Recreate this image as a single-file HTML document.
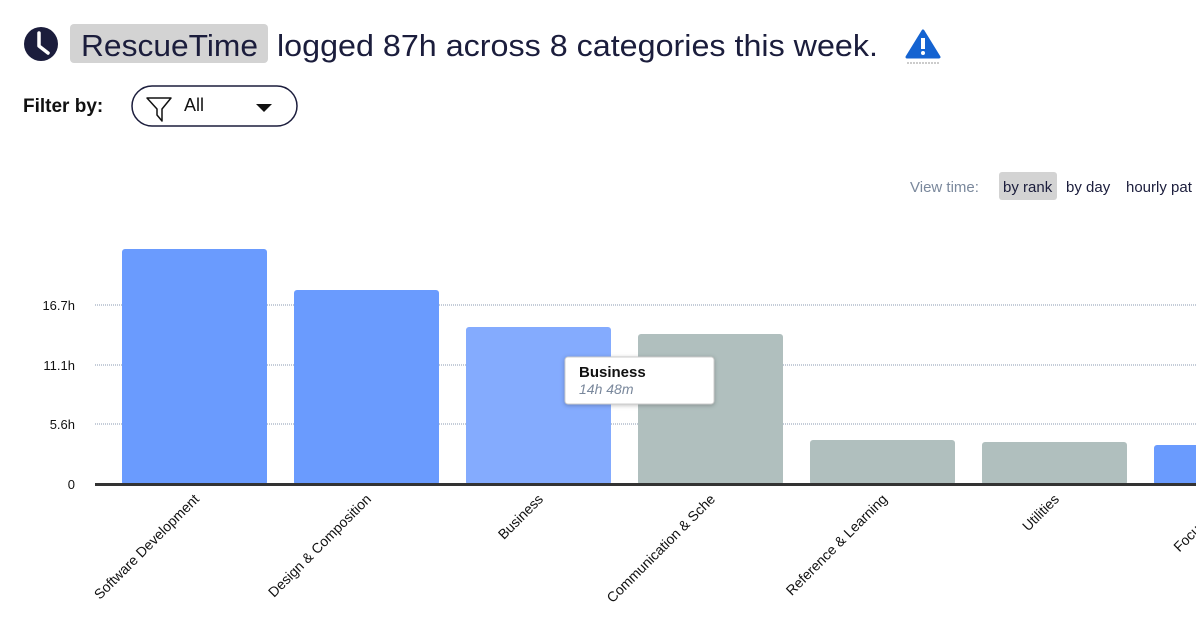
<!DOCTYPE html>
<html><head><meta charset="utf-8"><style>
body{margin:0;width:1196px;height:632px;background:#fff;font-family:"Liberation Sans",sans-serif;color:#1b1d3c;overflow:hidden;position:relative}
.t{position:absolute;left:0;top:0}
</style></head><body>
<svg width="1196" height="632" class="t" xmlns="http://www.w3.org/2000/svg" font-family="Liberation Sans, sans-serif">
<circle cx="41" cy="44" r="17" fill="#1b1d3c"/>
<path d="M39 33 V46 L48 53" stroke="#fff" stroke-width="3.5" fill="none" stroke-linecap="round" stroke-linejoin="round"/>
<rect x="70" y="24" width="198" height="39" rx="4" fill="#d3d3d3"/>
<text x="81" y="56" font-size="31" fill="#1b1d3c" textLength="177" lengthAdjust="spacingAndGlyphs">RescueTime</text>
<text x="277" y="56" font-size="31" fill="#1b1d3c" textLength="601" lengthAdjust="spacingAndGlyphs">logged 87h across 8 categories this week.</text>
<path d="M923 31 L939 57 L907 57 Z" fill="#1463d1" stroke="#1463d1" stroke-width="3" stroke-linejoin="round"/>
<rect x="921" y="38" width="4" height="11" fill="#fff"/><circle cx="923" cy="53" r="2" fill="#fff"/>
<line x1="907" y1="63" x2="939" y2="63" stroke="#999" stroke-dasharray="2,1"/>
<text x="23" y="112" font-size="19" font-weight="bold" fill="#111">Filter by:</text>
<rect x="132" y="86" width="165" height="40" rx="20" fill="#fff" stroke="#1b1d3c" stroke-width="1.5"/>
<path d="M147 98 H171 L162 109 V121 L157 115 V109 Z" fill="none" stroke="#111" stroke-width="1.5" stroke-linejoin="round"/>
<text x="184" y="111" font-size="18" fill="#111">All</text>
<path d="M256 104 H272 L264 112 Z" fill="#111"/>
<text x="910" y="192" font-size="15" fill="#7a889c">View time:</text>
<rect x="999" y="172" width="58" height="28" rx="3" fill="#d3d3d3"/>
<text x="1003" y="192" font-size="15" fill="#1b1d3c">by rank</text>
<text x="1066" y="192" font-size="15" fill="#1b1d3c">by day</text>
<text x="1126" y="192" font-size="15" fill="#1b1d3c">hourly pat</text>
<g stroke="#8a9ab0" stroke-dasharray="1,1" stroke-width="1">
<line x1="95" y1="305" x2="1196" y2="305"/><line x1="95" y1="365" x2="1196" y2="365"/><line x1="95" y1="424" x2="1196" y2="424"/>
</g>
<g font-size="13" fill="#111" text-anchor="end">
<text x="75" y="310">16.7h</text><text x="75" y="370">11.1h</text><text x="75" y="429">5.6h</text><text x="75" y="489">0</text>
</g>
<g>
<rect x="122" y="249" width="145" height="236" rx="3" fill="#6a9bfe"/>
<rect x="294" y="290" width="145" height="195" rx="3" fill="#6a9bfe"/>
<rect x="466" y="327" width="145" height="158" rx="3" fill="#84abfe"/>
<rect x="638" y="334" width="145" height="151" rx="3" fill="#b0bfbe"/>
<rect x="810" y="440" width="145" height="45" rx="3" fill="#b0bfbe"/>
<rect x="982" y="442" width="145" height="43" rx="3" fill="#b0bfbe"/>
<rect x="1154" y="445" width="50" height="40" rx="3" fill="#6a9bfe"/>
</g>
<line x1="95" y1="484.5" x2="1196" y2="484.5" stroke="#333" stroke-width="3"/>
<g font-size="14" fill="#111" text-anchor="end">
<text transform="translate(200,500) rotate(-45)">Software Development</text>
<text transform="translate(372,500) rotate(-45)">Design &amp; Composition</text>
<text transform="translate(544,500) rotate(-45)">Business</text>
<text transform="translate(716,500) rotate(-45)">Communication &amp; Sche</text>
<text transform="translate(888,500) rotate(-45)">Reference &amp; Learning</text>
<text transform="translate(1060,500) rotate(-45)">Utilities</text>
<text transform="translate(1232,500) rotate(-45)">Focus Work</text>
</g>
<rect x="565" y="357" width="149" height="47" rx="3" fill="#fff" stroke="#ccc" style="filter:drop-shadow(0 1px 2px rgba(0,0,0,.25))"/>
<text x="579" y="377" font-size="15" font-weight="bold" fill="#111">Business</text>
<text x="579" y="394" font-size="14" font-style="italic" fill="#7a889c">14h 48m</text>
</svg>
</body></html>
